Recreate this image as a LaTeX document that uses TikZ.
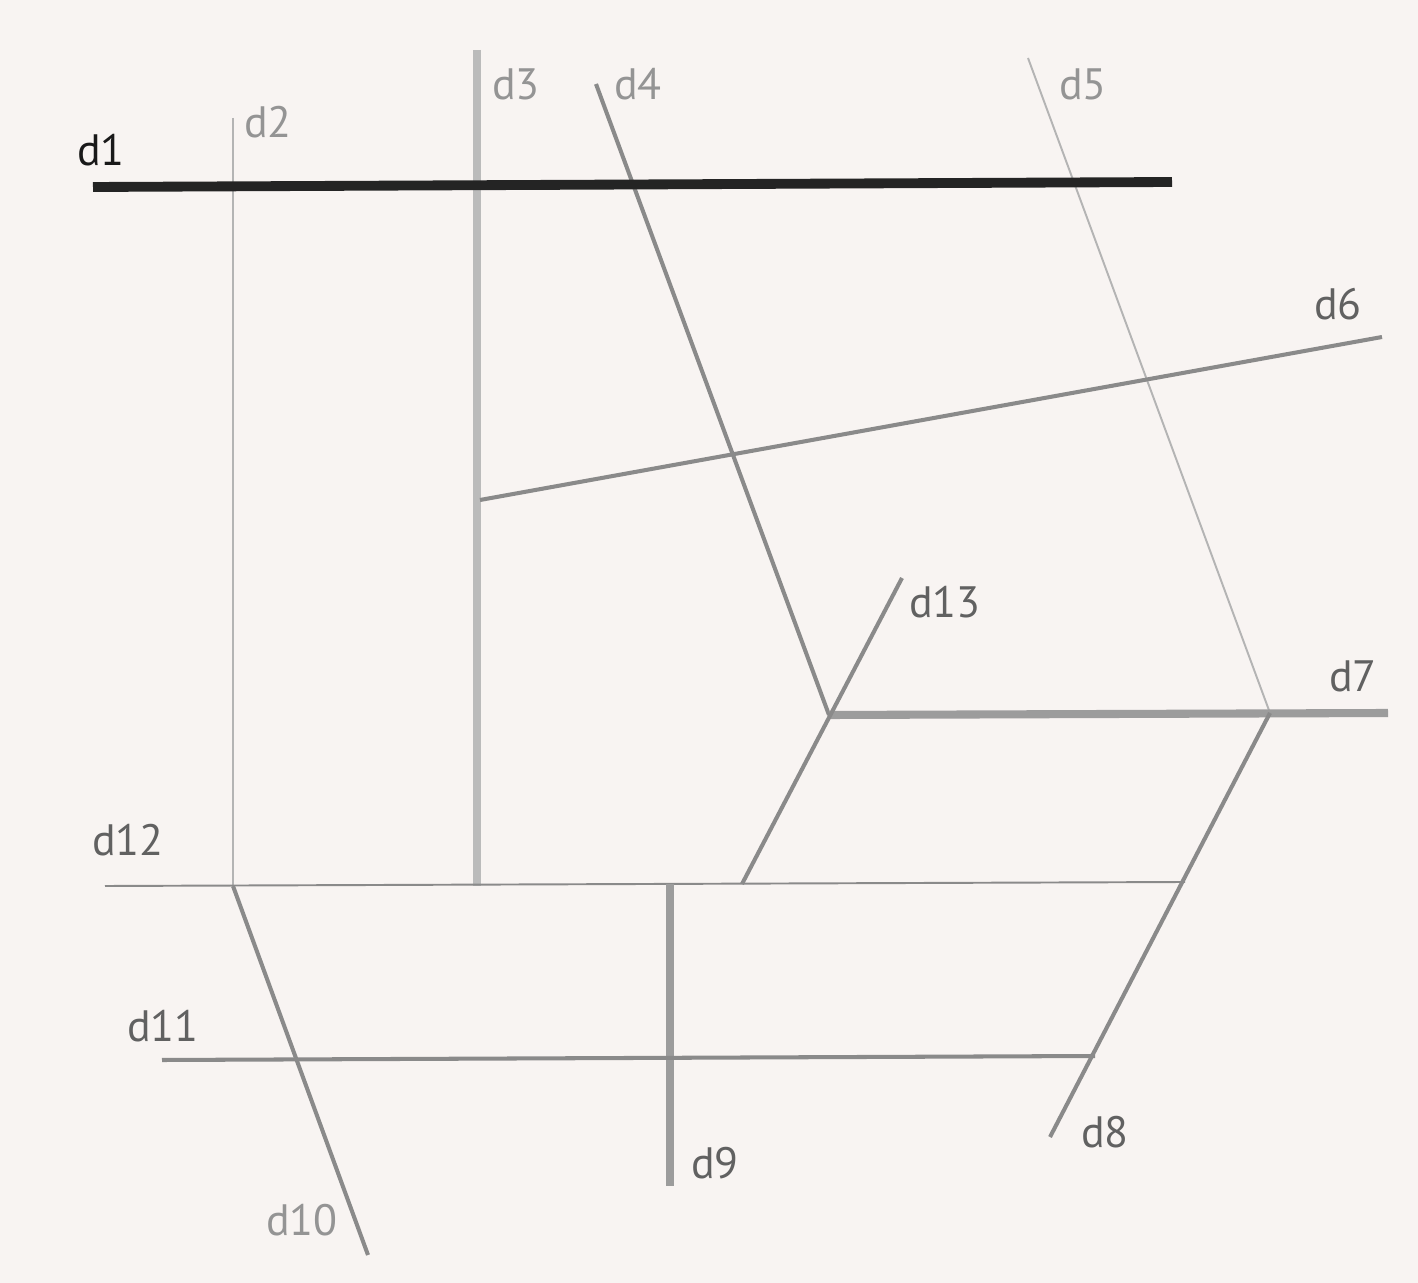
\documentclass[tikz,border=0pt]{standalone}
\usepackage{fontspec}
\setmainfont{PT Sans}
\usepackage{tikz}
\definecolor{paper}{HTML}{F8F4F2}
\definecolor{lightline}{HTML}{B4B4B4}
\definecolor{midline}{HTML}{8A8A8A}
\definecolor{darkline}{HTML}{242424}
\tikzstyle{hairline} = [line width=1.1pt, color=lightline]
\tikzstyle{greyline} = [line width=2.3pt, color=midline]
\tikzstyle{heavyline} = [line width=4.6pt, color=midline!85]
\tikzstyle{paleheavy} = [line width=4.4pt, color=lightline!90]
\tikzstyle{blackline} = [line width=5.6pt, color=darkline]
\tikzstyle{tag} = [font=\fontsize{25}{30}\selectfont, inner sep=0pt, text=black!62]
\tikzstyle{paletag} = [tag, text=black!42]

\begin{document}
\begin{tikzpicture}[x=0.02cm, y=-0.02cm]
		\fill[paper] (0,0) rectangle (1418,1283);
		\useasboundingbox (0,0) rectangle (1418,1283);
		% End points
		\coordinate (d1a) at (93,187);
		\coordinate (d1b) at (1172,182);
		\coordinate (d2a) at (233,118);
		\coordinate (d2b) at (233,886);
		\coordinate (d3a) at (477,50);
		\coordinate (d3b) at (477,886);
		\coordinate (d4a) at (596,84);
		\coordinate (knotL) at (829,715);
		\coordinate (d5a) at (1028,58);
		\coordinate (knotR) at (1270,713);
		\coordinate (d6a) at (480,500);
		\coordinate (d6b) at (1382,337);
		\coordinate (d7b) at (1388,713);
		\coordinate (d13a) at (742,884);
		\coordinate (d13b) at (902,578);
		\coordinate (d8b) at (1050,1137);
		\coordinate (d12a) at (105,886);
		\coordinate (d12b) at (1185,882);
		\coordinate (d9a) at (670,884);
		\coordinate (d9b) at (670,1186);
		\coordinate (d10b) at (368,1255);
		\coordinate (d11a) at (162,1060);
		\coordinate (d11b) at (1095,1056);
	
		% Lines
		\draw [hairline] (d2a) -- (d2b);
		\draw [paleheavy] (d3a) -- (d3b);
		\draw [greyline] (d4a) -- (knotL);
		\draw [hairline] (d5a) -- (knotR);
		\draw [greyline] (d6a) -- (d6b);
		\draw [heavyline] (knotL) -- (d7b);
		\draw [greyline] (d13a) -- (d13b);
		\draw [greyline] (knotR) -- (d8b);
		\draw [hairline, color=midline] (d12a) -- (d12b);
		\draw [heavyline] (d9a) -- (d9b);
		\draw [greyline] (d2b) -- (d10b);
		\draw [greyline] (d11a) -- (d11b);
		\draw [blackline] (d1a) -- (d1b);
		% Labels
		\node (l1) [tag, text=black!90] at (101,150) {d1};
		\node (l2) [paletag] at (268,122) {d2};
		\node (l3) [paletag] at (516,84) {d3};
		\node (l4) [paletag] at (638,84) {d4};
		\node (l5) [paletag] at (1083,84) {d5};
		\node (l6) [tag] at (1338,304) {d6};
		\node (l7) [tag] at (1353,676) {d7};
		\node (l13) [tag] at (945,602) {d13};
		\node (l12) [tag] at (128,840) {d12};
		\node (l11) [tag] at (163,1026) {d11};
		\node (l9) [tag] at (715,1163) {d9};
		\node (l8) [tag] at (1105,1132) {d8};
		\node (l10) [paletag] at (302,1220) {d10};
	\end{tikzpicture}
\end{document}
